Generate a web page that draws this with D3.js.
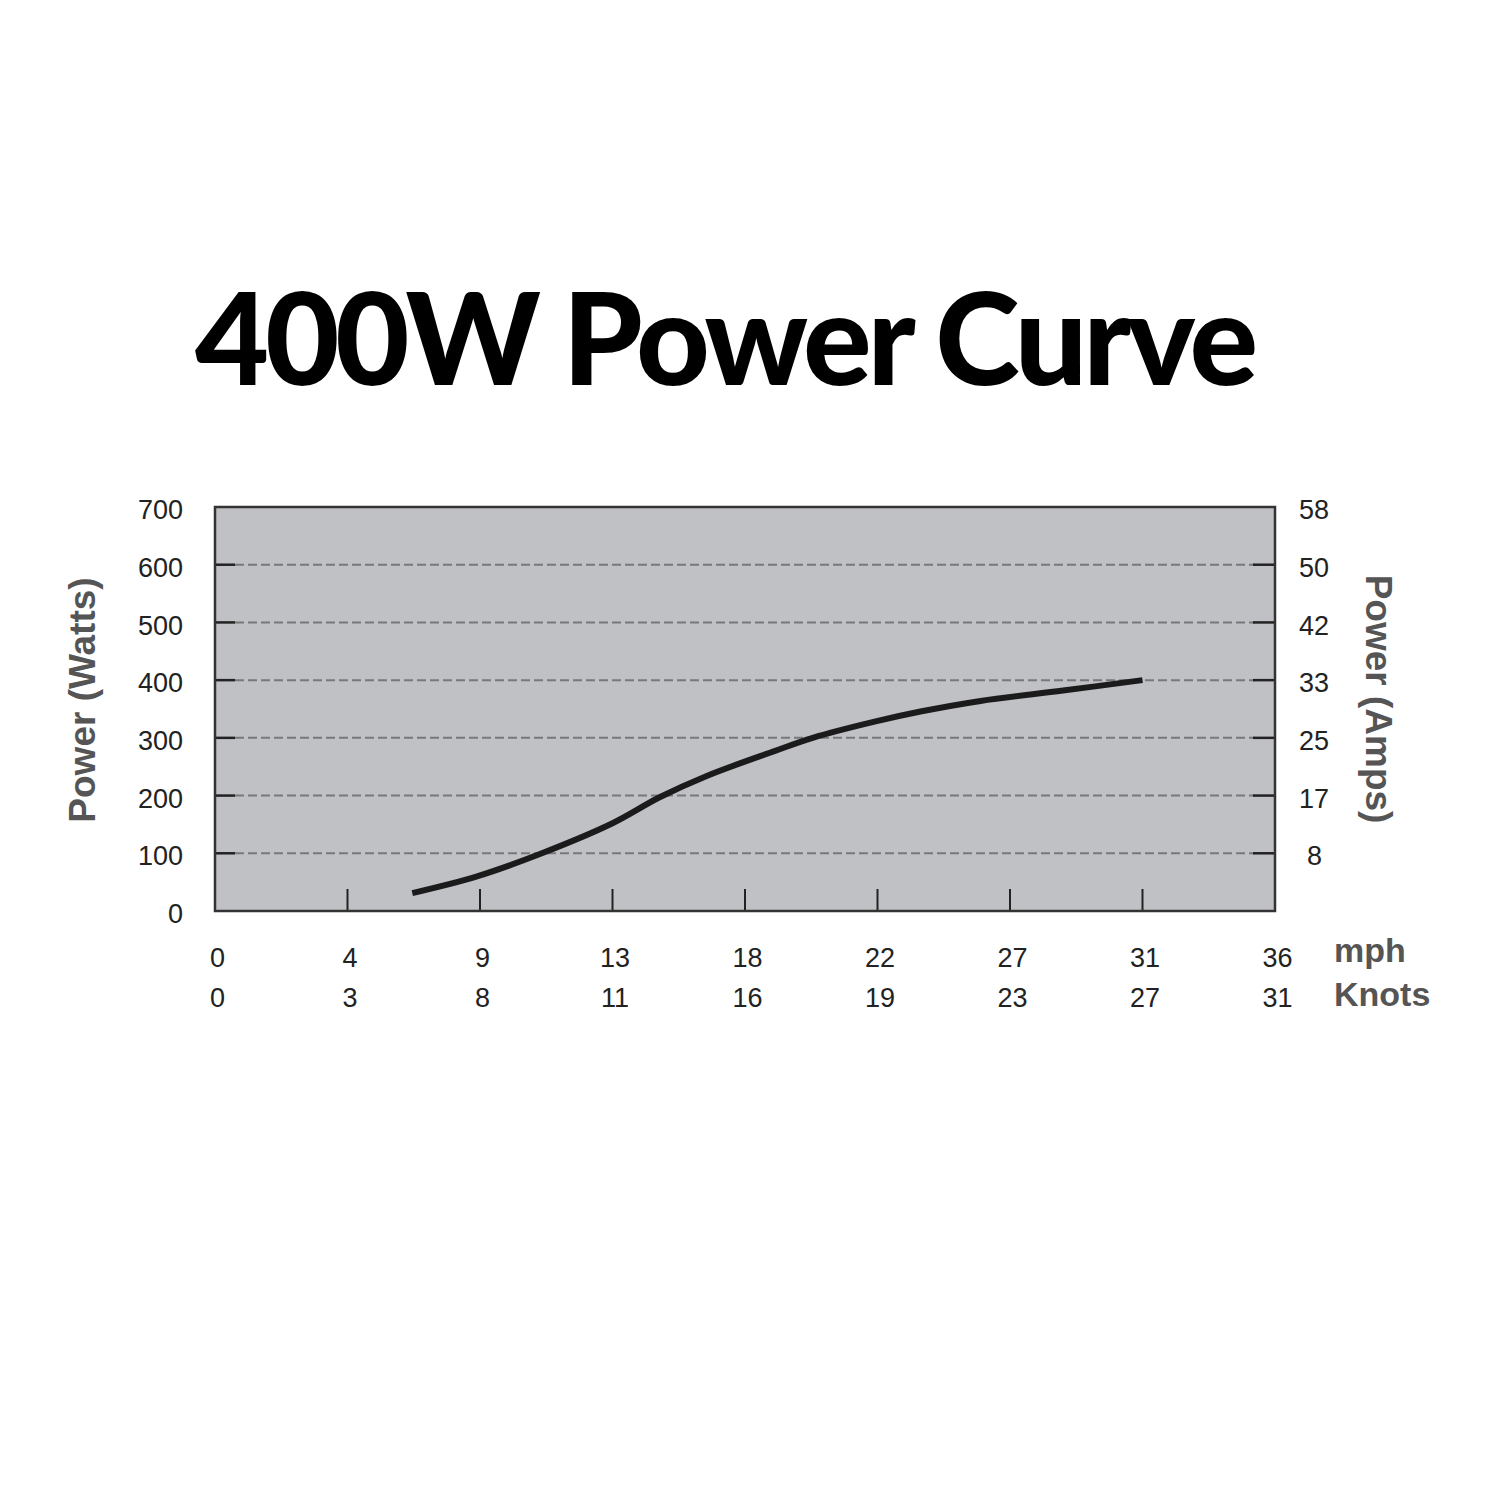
<!DOCTYPE html>
<html>
<head>
<meta charset="UTF-8">
<title>400W Power Curve</title>
<script src="https://cdn.jsdelivr.net/npm/d3@7"></script>
<style>
  body { margin: 0; background: #fff; }
</style>
</head>
<body>
<script>
// wind speed (mph) vs output (W)
var speedMph = [6.7, 8.9, 11.1, 13.5, 15.1, 16.7, 19.0, 20.3, 22.4, 24.0, 26.0, 28.8, 31.5];
var powerW   = [31, 60, 100, 152, 197, 234, 277, 300, 328, 346, 364, 382, 400];

// axis labels
var mphTicks   = [0, 4.5, 9, 13.5, 18, 22.5, 27, 31.5, 36];
var mphLabels  = ["0", "4", "9", "13", "18", "22", "27", "31", "36"];
var knotLabels = ["0", "3", "8", "11", "16", "19", "23", "27", "31"];
var wattTicks  = [0, 100, 200, 300, 400, 500, 600, 700];
var ampLabels  = ["", "8", "17", "25", "33", "42", "50", "58"];

var svg = d3.select("body").append("svg")
  .attr("width", 1500)
  .attr("height", 1500);

// title
svg.append("text")
  .attr("x", 195)
  .attr("y", 385)
  .attr("textLength", 1063)
  .attr("lengthAdjust", "spacing")
  .style("font-family", "Lato, 'Noto Sans', sans-serif")
  .style("font-weight", 900)
  .style("font-size", "128px")
  .attr("fill", "#000")
  .text("400W Power Curve");

var plotL = 215, plotR = 1275, plotT = 507, plotB = 911;

var x = d3.scaleLinear().domain([0, 36]).range([plotL, plotR]);
var y = d3.scaleLinear().domain([0, 700]).range([plotB, plotT]);

// plot background
svg.append("rect")
  .attr("x", plotL).attr("y", plotT)
  .attr("width", plotR - plotL).attr("height", plotB - plotT)
  .attr("fill", "#c0c1c5");

// dashed gridlines
svg.selectAll(".grid")
  .data(wattTicks.slice(1, 7))
  .enter().append("line")
  .attr("x1", plotL + 20).attr("x2", plotR - 20)
  .attr("y1", function(d){ return y(d); })
  .attr("y2", function(d){ return y(d); })
  .attr("stroke", "#77787b")
  .attr("stroke-width", 2)
  .attr("stroke-dasharray", "9,4");

// left ticks + labels
var tickFont = "'Liberation Sans', Arial, sans-serif";
var yLeft = d3.axisLeft(y).tickValues(wattTicks).tickSize(0).tickPadding(32);
var gl = svg.append("g").attr("transform", "translate(" + plotL + ",3)").call(yLeft);
gl.select(".domain").remove();
gl.selectAll("text").style("font-family", tickFont).style("font-size", "27px").attr("fill", "#222");

svg.selectAll(".ltick")
  .data(wattTicks.slice(1, 7))
  .enter().append("line")
  .attr("x1", plotL).attr("x2", plotL + 20)
  .attr("y1", function(d){ return y(d); })
  .attr("y2", function(d){ return y(d); })
  .attr("stroke", "#222").attr("stroke-width", 2.5);

// right ticks + amp labels
var yRight = d3.axisRight(y).tickValues(wattTicks.slice(1))
  .tickFormat(function(d){ return ampLabels[wattTicks.indexOf(d)]; })
  .tickSize(0).tickPadding(24);
var gr = svg.append("g").attr("transform", "translate(" + plotR + ",3)").call(yRight);
gr.select(".domain").remove();
gr.selectAll("text").style("font-family", tickFont).style("font-size", "27px").attr("fill", "#222");
gr.selectAll(".tick").filter(function(d){ return d === 100; }).select("text").attr("x", 32);

svg.selectAll(".rtick")
  .data(wattTicks.slice(1, 7))
  .enter().append("line")
  .attr("x1", plotR - 22).attr("x2", plotR)
  .attr("y1", function(d){ return y(d); })
  .attr("y2", function(d){ return y(d); })
  .attr("stroke", "#222").attr("stroke-width", 2.5);

// bottom ticks
svg.selectAll(".btick")
  .data(mphTicks.slice(1, 8))
  .enter().append("line")
  .attr("x1", function(d){ return x(d); })
  .attr("x2", function(d){ return x(d); })
  .attr("y1", plotB).attr("y2", plotB - 22)
  .attr("stroke", "#222").attr("stroke-width", 2);

// mph and knots label rows
var xMph = d3.axisBottom(x).tickValues(mphTicks)
  .tickFormat(function(d, i){ return mphLabels[i]; })
  .tickSize(0).tickPadding(37);
var gm = svg.append("g").attr("transform", "translate(2," + plotB + ")").call(xMph);
gm.select(".domain").remove();
gm.selectAll("text").style("font-family", tickFont).style("font-size", "27px").attr("fill", "#222");

var xKn = d3.axisBottom(x).tickValues(mphTicks)
  .tickFormat(function(d, i){ return knotLabels[i]; })
  .tickSize(0).tickPadding(77);
var gk = svg.append("g").attr("transform", "translate(2," + plotB + ")").call(xKn);
gk.select(".domain").remove();
gk.selectAll("text").style("font-family", tickFont).style("font-size", "27px").attr("fill", "#222");

// frame
svg.append("rect")
  .attr("x", plotL).attr("y", plotT)
  .attr("width", plotR - plotL).attr("height", plotB - plotT)
  .attr("fill", "none")
  .attr("stroke", "#333")
  .attr("stroke-width", 2.5);

// power curve
var pts = speedMph.map(function(s, i){ return [s, powerW[i]]; });
var line = d3.line()
  .x(function(d){ return x(d[0]); })
  .y(function(d){ return y(d[1]); })
  .curve(d3.curveCatmullRom.alpha(0.5));
svg.append("path")
  .datum(pts)
  .attr("d", line)
  .attr("fill", "none")
  .attr("stroke", "#1c1b1c")
  .attr("stroke-width", 6);

// axis titles
var titleFont = "'Liberation Sans', Arial, sans-serif";
svg.append("text")
  .attr("transform", "translate(95,700) rotate(-90)")
  .attr("text-anchor", "middle")
  .style("font-family", titleFont).style("font-weight", "bold").style("font-size", "37px")
  .attr("fill", "#555")
  .text("Power (Watts)");

svg.append("text")
  .attr("transform", "translate(1366,699) rotate(90)")
  .attr("text-anchor", "middle")
  .style("font-family", titleFont).style("font-weight", "bold").style("font-size", "37px")
  .attr("fill", "#555")
  .text("Power (Amps)");

svg.append("text")
  .attr("x", 1334).attr("y", 962)
  .style("font-family", titleFont).style("font-weight", "bold").style("font-size", "34px")
  .attr("fill", "#555")
  .text("mph");

svg.append("text")
  .attr("x", 1334).attr("y", 1006)
  .style("font-family", titleFont).style("font-weight", "bold").style("font-size", "34px")
  .attr("fill", "#555")
  .text("Knots");
</script>
</body>
</html>
